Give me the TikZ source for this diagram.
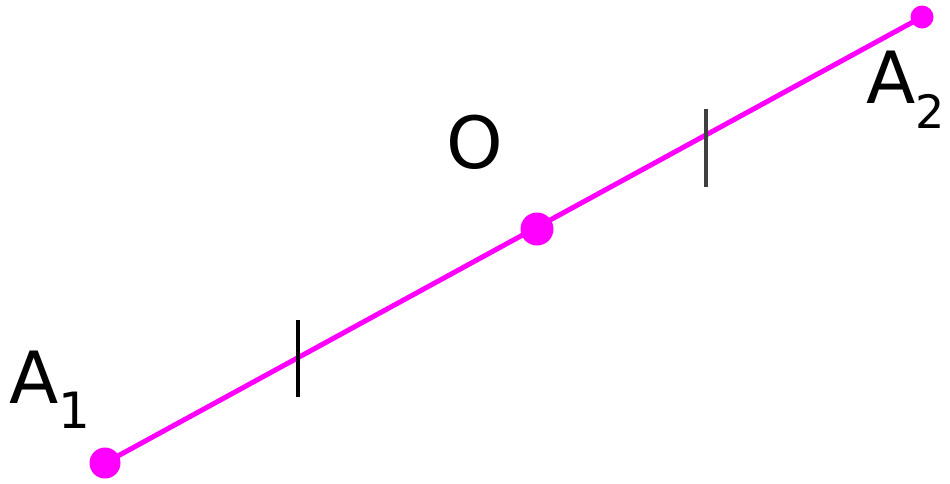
\documentclass[tikz,border=0pt]{standalone}
\usepackage{fontspec}
\setmainfont{DejaVu Sans}
\definecolor{mag}{RGB}{255,0,255}
\begin{document}
\begin{tikzpicture}[x=1pt,y=-1pt,
  seg/.style={draw=mag, line width=5pt},
  dot/.style={circle, fill=mag, inner sep=0pt},
  tick/.style={draw=black, line width=3.5pt},
  lab/.style={inner sep=0pt, anchor=base west, font=\fontsize{72}{72}\selectfont}]
\useasboundingbox (0,0) rectangle (950,483);
\fill[white] (0,0) rectangle (950,483);
\coordinate (p1) at (105,463);
\coordinate (p2) at (922,17);
\draw[seg] (p1) -- (p2);
\node[dot, minimum size=31pt] (a1) at (p1) {};
\node[dot, minimum size=23pt] (a2) at (p2) {};
\node[dot, minimum size=33pt] (o) at (537,229) {};
\coordinate (t1a) at (298,320);
\coordinate (t1b) at (298,397);
\coordinate (t2a) at (706,109);
\coordinate (t2b) at (706,187);
\draw[tick] (t1a) -- (t1b);
\draw[tick, draw=black!75] (t2a) -- (t2b);
\node[lab] (la1) at (9,403) {A\raisebox{-25pt}{\fontsize{50}{50}\selectfont 1}};
\node[lab] (la2) at (866,103) {A\raisebox{-25pt}{\fontsize{46}{46}\selectfont 2}};
\node[lab] (lo) at (446,168) {O};
\end{tikzpicture}
\end{document}
